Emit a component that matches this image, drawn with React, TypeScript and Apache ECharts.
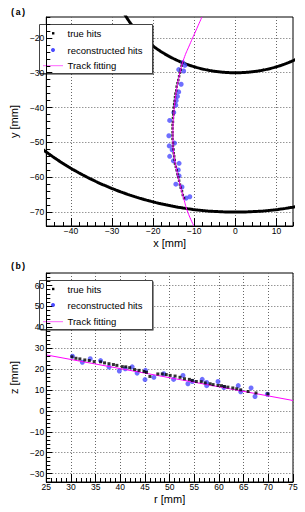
import React, { useEffect, useRef } from 'react';
import * as echarts from 'echarts';

// ---- Panel (a): x-y plane ----
const layerRadii = [30, 70];
const xTicksA = [-40, -30, -20, -10, 0, 10];
const yTicksA = [-70, -60, -50, -40, -30, -20];
const trueHitsXY: [number, number][] = [
  [-12.9, -27.1], [-13.1, -28.0], [-13.3, -29.1], [-13.5, -30.0], [-13.7, -31.0], [-13.9, -32.1],
  [-14.1, -33.0], [-14.3, -34.0], [-14.4, -35.1], [-14.6, -36.0], [-14.7, -37.0], [-14.8, -38.1],
  [-14.9, -39.0], [-15.0, -40.0], [-15.1, -41.1], [-15.1, -42.0], [-15.2, -43.0], [-15.2, -44.1],
  [-15.3, -45.0], [-15.3, -46.0], [-15.3, -47.1], [-15.3, -48.0], [-15.3, -49.0], [-15.2, -50.1],
  [-15.2, -51.0], [-15.1, -52.0], [-15.0, -53.1], [-14.9, -54.0], [-14.8, -55.0], [-14.7, -56.1],
  [-14.5, -57.0], [-14.3, -58.0], [-14.1, -59.1], [-13.9, -60.0], [-13.7, -61.0], [-13.5, -62.1],
  [-13.3, -63.0], [-13.0, -64.0], [-12.8, -65.1], [-12.5, -66.0]
];
const recoHitsXY: [number, number][] = [
  [-12.8, -27.1], [-12.3, -27.9], [-13.8, -29.1], [-12.6, -29.5], [-13.2, -33.3], [-13.8, -35.5],
  [-14.1, -36.8], [-14.4, -38.0], [-14.5, -39.3], [-15.0, -41.4], [-16.0, -43.7], [-16.2, -48.1],
  [-14.8, -50.2], [-16.1, -51.0], [-15.4, -52.1], [-16.0, -54.0], [-15.1, -55.3], [-13.7, -56.0],
  [-13.9, -57.9], [-13.7, -59.6], [-14.5, -62.0], [-13.0, -62.8], [-12.0, -66.0], [-11.1, -65.6]
];
const fitXY: [number, number][] = [
  [-8.15, -14], [-9.65, -18], [-11.15, -22], [-12.55, -26], [-13.5, -30], [-14.2, -34],
  [-14.7, -38], [-15.0, -42], [-15.2, -46], [-15.2, -50], [-14.9, -54], [-14.3, -58],
  [-13.5, -62], [-12.6, -66], [-11.6, -70], [-10.1, -74]
];

// ---- Panel (b): r-z plane ----
const rTicksB = [25, 30, 35, 40, 45, 50, 55, 60, 65, 70, 75];
const zTicksB = [-30, -20, -10, 0, 10, 20, 30, 40, 50, 60];
const trueHitsRZ: [number, number][] = [
  [30.2, 25.9], [31.0, 25.2], [31.8, 24.9], [32.8, 24.4], [33.7, 24.1], [34.7, 23.6], [36.0, 23.5],
  [36.8, 23.0], [37.7, 22.6], [38.6, 22.2], [39.3, 21.8], [40.4, 21.2], [41.1, 21.1], [41.9, 20.7],
  [42.9, 19.8], [43.8, 19.4], [44.8, 18.9], [45.3, 18.5], [46.0, 16.5], [47.6, 17.7], [48.5, 17.7],
  [49.3, 17.4], [50.1, 17.0], [51.1, 16.7], [52.1, 16.1], [53.0, 15.4], [54.0, 15.1], [54.6, 14.6],
  [55.4, 14.1], [56.4, 14.0], [57.2, 13.4], [58.2, 13.0], [58.8, 12.6], [59.8, 12.2], [60.5, 12.1],
  [61.1, 11.7], [61.8, 11.4], [62.8, 11.0], [63.6, 10.6], [64.4, 10.1], [65.9, 9.3], [67.5, 8.6],
  [69.9, 8.2]
];
const recoHitsRZ: [number, number][] = [
  [30.3, 26.2], [32.3, 23.3], [33.9, 25.0], [36.0, 24.1], [37.7, 21.0], [39.8, 19.1], [41.0, 20.2],
  [42.4, 21.1], [43.4, 18.1], [45.1, 19.4], [45.0, 15.0], [46.8, 16.1], [48.8, 17.8], [50.8, 15.1],
  [52.7, 17.0], [53.7, 13.0], [54.6, 14.1], [56.6, 15.1], [57.5, 12.1], [57.5, 13.6], [59.8, 14.1],
  [61.0, 11.2], [63.9, 12.1], [64.4, 9.2], [66.5, 11.0], [67.3, 6.9], [69.8, 8.0]
];
const fitRZ: [number, number][] = [[25, 26.8], [75, 5.0]];

const FONT = 'Liberation Sans, Arial, Helvetica, sans-serif';
const minus = (v: number) => (v < 0 ? '\u2212' + Math.abs(v) : String(v));

function minorValues(min: number, max: number, step: number, majors: number[]) {
  const out: number[] = [];
  for (let v = min; v <= max + 1e-9; v += step) {
    const r = Math.round(v * 1000) / 1000;
    if (!majors.includes(r)) out.push(r);
  }
  return out;
}

function circlePoints(r: number): [number, number][] {
  const pts: [number, number][] = [];
  for (let i = 0; i <= 720; i++) {
    const a = (i / 720) * Math.PI * 2;
    pts.push([r * Math.cos(a), r * Math.sin(a)]);
  }
  return pts;
}

// returns [gridLinesAxis, majorAxis, minorAxis]
function axisSet(
  dim: 'x' | 'y', gridIndex: number, min: number, max: number, majors: number[], minorStep: number,
  name: string, majorLen: number
) {
  const position = dim === 'x' ? 'bottom' : 'left';
  const gridLines: any = {
    type: 'value', gridIndex, min, max, position, z: 0,
    axisLine: { show: false, onZero: false },
    axisTick: { show: false, customValues: majors },
    axisLabel: { show: false, customValues: majors },
    splitLine: { show: true, lineStyle: { color: '#666', width: 1, type: [1, 2] } },
  };
  const major: any = {
    type: 'value', gridIndex, min, max, position, z: 20,
    axisLine: { show: true, onZero: false, lineStyle: { color: '#000', width: 1 } },
    axisTick: { show: true, inside: true, length: majorLen, customValues: majors, lineStyle: { color: '#000', width: 1 } },
    axisLabel: {
      show: true, customValues: majors, formatter: minus, fontSize: 8.5, color: '#000', fontFamily: FONT,
      margin: dim === 'x' ? 0.5 : 2
    },
    splitLine: { show: false },
    name, nameLocation: 'middle', nameGap: dim === 'x' ? 11 : 15,
    nameTextStyle: { fontSize: 11, color: '#000', fontFamily: FONT },
  };
  const minor: any = {
    type: 'value', gridIndex, min, max, position, z: 20,
    axisLine: { show: false, onZero: false },
    axisTick: { show: true, inside: true, length: 4, customValues: minorValues(min, max, minorStep, majors), lineStyle: { color: '#000', width: 1 } },
    axisLabel: { show: false },
    splitLine: { show: false },
  };
  return [gridLines, major, minor];
}

function legend(top: number, entries: { y: number }[]) {
  const L = 39, W = 113, H = 49;
  return [
    { type: 'rect', shape: { x: L + 1.5, y: top + 1.5, width: W, height: H }, style: { fill: '#222' }, z: 10 },
    { type: 'rect', shape: { x: L + 0.5, y: top + 0.5, width: W, height: H }, style: { fill: '#fff', stroke: '#444', lineWidth: 1 }, z: 11 },
    { type: 'rect', shape: { x: 52, y: top + entries[0].y - 1.2, width: 2.4, height: 2.4 }, style: { fill: '#000' }, z: 12 },
    { type: 'circle', shape: { cx: 53, cy: top + entries[1].y, r: 2 }, style: { fill: '#4b4bff' }, z: 12 },
    { type: 'line', shape: { x1: 43, y1: top + entries[2].y, x2: 63, y2: top + entries[2].y }, style: { stroke: '#ff66ff', lineWidth: 1 }, z: 12 },
    { type: 'text', x: 67.5, y: top + entries[0].y, style: { text: 'true hits', fontSize: 9.5, fontFamily: FONT, fill: '#000', verticalAlign: 'middle' }, z: 12 },
    { type: 'text', x: 67.5, y: top + entries[1].y, style: { text: 'reconstructed hits', fontSize: 9.5, fontFamily: FONT, fill: '#000', verticalAlign: 'middle' }, z: 12 },
    { type: 'text', x: 67.5, y: top + entries[2].y, style: { text: 'Track fitting', fontSize: 9.5, fontFamily: FONT, fill: '#000', verticalAlign: 'middle' }, z: 12 },
  ];
}

export default function App() {
  const ref = useRef<HTMLDivElement>(null);
  useEffect(() => {
    if (!ref.current) return;
    const chart = echarts.init(ref.current, undefined, { renderer: 'svg' });
    const xA = axisSet('x', 0, -46, 14, xTicksA, 2, 'x [mm]', 8);
    const yA = axisSet('y', 0, -74, -14, yTicksA, 2, 'y [mm]', 6);
    const xB = axisSet('x', 1, 25, 75, rTicksB, 1, 'r [mm]', 8);
    const yB = axisSet('y', 1, -34, 66, zTicksB, 2, 'z [mm]', 6);
    // axis index of the major axis in each grid: A -> 1, B -> 4

    const hitsTrue = (data: any, xi: number, yi: number, size: number) => ({
      type: 'scatter', xAxisIndex: xi, yAxisIndex: yi, data, symbol: 'rect', symbolSize: size,
      itemStyle: { color: '#000' }, silent: true, z: 4,
    });
    const hitsReco = (data: any, xi: number, yi: number) => ({
      type: 'scatter', xAxisIndex: xi, yAxisIndex: yi, data, symbol: 'circle', symbolSize: 5,
      itemStyle: { color: '#4b4bff', opacity: 0.8 }, silent: true, z: 3,
    });

    chart.setOption({
      animation: false,
      backgroundColor: '#fff',
      grid: [
        { left: 33, top: 17, width: 260, height: 209, show: true, borderColor: '#000', borderWidth: 1, backgroundColor: 'transparent' },
        { left: 33, top: 273, width: 260, height: 209, show: true, borderColor: '#000', borderWidth: 1, backgroundColor: 'transparent' },
      ],
      xAxis: [...xA, ...xB],
      yAxis: [...yA, ...yB],
      series: [
        ...layerRadii.map((r) => ({
          type: 'line', xAxisIndex: 1, yAxisIndex: 1, data: circlePoints(r), showSymbol: false,
          lineStyle: { color: '#000', width: 3 }, clip: true, silent: true, z: 2,
        })),
        hitsReco(recoHitsXY, 1, 1),
        hitsTrue(trueHitsXY, 1, 1, 2.5),
        {
          type: 'line', xAxisIndex: 1, yAxisIndex: 1, data: fitXY, showSymbol: false, smooth: true,
          lineStyle: { color: '#ff00ff', width: 1 }, clip: true, silent: true, z: 5,
        },
        hitsReco(recoHitsRZ, 4, 4),
        hitsTrue(trueHitsRZ, 4, 4, 3),
        {
          type: 'line', xAxisIndex: 4, yAxisIndex: 4, data: fitRZ, showSymbol: false,
          lineStyle: { color: '#ff00ff', width: 1 }, clip: true, silent: true, z: 3.5,
        },
      ],
      graphic: [
        { type: 'text', x: 10, y: 12.5, style: { text: '(a)', fontSize: 9, fontWeight: 'bold', fontFamily: 'Liberation Mono, monospace', fill: '#000', verticalAlign: 'middle' } },
        { type: 'text', x: 10, y: 267, style: { text: '(b)', fontSize: 9, fontWeight: 'bold', fontFamily: 'Liberation Mono, monospace', fill: '#000', verticalAlign: 'middle' } },
        ...legend(24, [{ y: 9.3 }, { y: 26 }, { y: 41.7 }]),
        ...legend(280, [{ y: 9 }, { y: 25 }, { y: 41.7 }]),
      ],
    });
    return () => chart.dispose();
  }, []);
  return <div ref={ref} style={{ position: 'fixed', left: 0, top: 0, width: 305, height: 512 }} />;
}
